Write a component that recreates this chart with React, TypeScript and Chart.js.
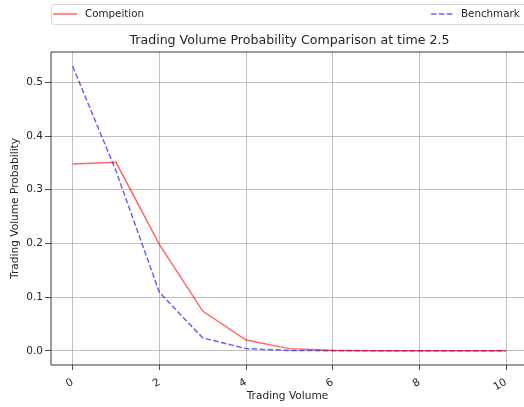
import { useEffect, useRef } from "react";
import { Chart, registerables } from "chart.js";

Chart.register(...registerables);

// Trading volume (x) and the probability of each volume for both models
const volumes = [0, 1, 2, 3, 4, 5, 6, 7, 8, 9, 10];
const competition = [0.348, 0.351, 0.198, 0.074, 0.02, 0.004, 0.001, 0.0002, 0, 0, 0];
const benchmark = [0.53, 0.335, 0.109, 0.024, 0.004, 0.0006, 0.0001, 0, 0, 0, 0];
const seriesNames = ["Compeition", "Benchmark"];
const xTicks = [0, 2, 4, 6, 8, 10];
const yTicks = [0, 0.1, 0.2, 0.3, 0.4, 0.5];
const titleText = "Trading Volume Probability Comparison at time 2.5";
const xTitle = "Trading Volume";
const yTitle = "Trading Volume Probability";

const FONT = "'DejaVu Sans', 'Liberation Sans', sans-serif";
const TEXT = "#262626";
const RED = "rgba(255, 0, 0, 0.6)";
const BLUE = "rgba(0, 0, 255, 0.6)";
const DASH = [5.5, 2.4];

// Title, expanded legend strip and the axes frame; the figure is cut on the
// right, so the frame and legend box stay open on that side
const decorations = {
  id: "decorations",
  afterDraw(chart: any) {
    const { ctx, chartArea } = chart;
    const { left, right, top, bottom } = chartArea;
    const axesRight = right + 4;
    ctx.save();

    // frame: top, left and bottom spines
    ctx.strokeStyle = "#222";
    ctx.lineWidth = 0.9;
    ctx.beginPath();
    ctx.moveTo(axesRight, top);
    ctx.lineTo(left, top);
    ctx.lineTo(left, bottom);
    ctx.lineTo(axesRight, bottom);
    ctx.stroke();

    // title, centred on the full axes width
    ctx.fillStyle = TEXT;
    ctx.font = `12.6px ${FONT}`;
    ctx.textAlign = "center";
    ctx.textBaseline = "alphabetic";
    ctx.fillText(titleText, (left + axesRight) / 2, 43.5);

    // legend box spanning the axes width
    const ly = 4.5;
    const lh = 20;
    const r = 3;
    const lx = left + 0.5;
    ctx.beginPath();
    ctx.moveTo(axesRight, ly);
    ctx.lineTo(lx + r, ly);
    ctx.arcTo(lx, ly, lx, ly + r, r);
    ctx.lineTo(lx, ly + lh - r);
    ctx.arcTo(lx, ly + lh, lx + r, ly + lh, r);
    ctx.lineTo(axesRight, ly + lh);
    ctx.fillStyle = "rgba(255,255,255,0.8)";
    ctx.fill();
    ctx.strokeStyle = "#d6d6d6";
    ctx.lineWidth = 1;
    ctx.stroke();

    const cy = ly + lh / 2 - 0.5;
    ctx.font = `10.3px ${FONT}`;
    ctx.textAlign = "left";
    ctx.textBaseline = "middle";

    // first entry
    ctx.beginPath();
    ctx.strokeStyle = RED;
    ctx.lineWidth = 1.5;
    ctx.setLineDash([]);
    ctx.moveTo(left + 2, cy);
    ctx.lineTo(left + 26, cy);
    ctx.stroke();
    ctx.fillStyle = TEXT;
    ctx.fillText(seriesNames[0], left + 34, cy);

    // second entry
    const x2 = left + 380;
    ctx.beginPath();
    ctx.strokeStyle = BLUE;
    ctx.setLineDash(DASH);
    ctx.moveTo(x2, cy);
    ctx.lineTo(x2 + 22, cy);
    ctx.stroke();
    ctx.setLineDash([]);
    ctx.fillText(seriesNames[1], x2 + 30, cy);

    ctx.restore();
  },
};

export default function App() {
  const canvasRef = useRef<HTMLCanvasElement | null>(null);

  useEffect(() => {
    const canvas = canvasRef.current;
    if (!canvas) return;

    const chart = new Chart(canvas, {
      type: "line",
      data: {
        datasets: [
          {
            label: seriesNames[0],
            data: volumes.map((v, i) => ({ x: v, y: competition[i] })),
            borderColor: RED,
            borderWidth: 1.5,
            pointRadius: 0,
            pointHoverRadius: 0,
            tension: 0,
            fill: false,
          },
          {
            label: seriesNames[1],
            data: volumes.map((v, i) => ({ x: v, y: benchmark[i] })),
            borderColor: BLUE,
            borderWidth: 1.5,
            borderDash: DASH,
            pointRadius: 0,
            pointHoverRadius: 0,
            tension: 0,
            fill: false,
          },
        ],
      },
      options: {
        responsive: false,
        animation: false,
        devicePixelRatio: 1,
        layout: { autoPadding: false, padding: { top: 52, left: 0, right: 0, bottom: 0 } },
        plugins: {
          legend: { display: false },
          title: { display: false },
          tooltip: { enabled: false },
        },
        scales: {
          x: {
            type: "linear",
            min: -0.5,
            max: 10.415,
            afterBuildTicks: (scale: any) => {
              scale.ticks = xTicks.map((v) => ({ value: v }));
            },
            afterFit: (scale: any) => {
              scale.height = 42;
              scale.paddingLeft = 0;
              scale.paddingRight = 0;
            },
            grid: {
              color: "#b0b0b0",
              lineWidth: 0.8,
              tickColor: "#222",
              tickLength: 5,
            },
            border: { display: false },
            ticks: {
              autoSkip: false,
              minRotation: 30,
              maxRotation: 30,
              padding: 6,
              color: TEXT,
              font: { family: FONT, size: 10.5 },
              callback: (v: any) => String(v),
            },
            title: {
              display: true,
              text: xTitle,
              color: TEXT,
              font: { family: FONT, size: 10.6 },
              padding: { top: 0, bottom: 4 },
            },
          },
          y: {
            type: "linear",
            min: -0.0265,
            max: 0.5565,
            afterBuildTicks: (scale: any) => {
              scale.ticks = yTicks.map((v) => ({ value: v }));
            },
            afterFit: (scale: any) => {
              scale.width = 51;
              scale.paddingTop = 0;
              scale.paddingBottom = 0;
            },
            grid: {
              color: "#b0b0b0",
              lineWidth: 0.8,
              tickColor: "#222",
              tickLength: 6,
            },
            border: { display: false },
            ticks: {
              padding: 2,
              color: TEXT,
              font: { family: FONT, size: 10.5 },
              callback: (v: any) => Number(v).toFixed(1),
            },
            title: {
              display: true,
              text: yTitle,
              color: TEXT,
              font: { family: FONT, size: 10.6 },
              padding: { top: 9, bottom: 0 },
            },
          },
        },
      },
      plugins: [decorations],
    });

    return () => chart.destroy();
  }, []);

  return (
    <div
      style={{
        position: "absolute",
        left: 0,
        top: 0,
        width: 524,
        height: 407,
        overflow: "hidden",
        background: "#fff",
      }}
    >
      <canvas ref={canvasRef} width={524} height={407} style={{ display: "block" }} />
    </div>
  );
}
